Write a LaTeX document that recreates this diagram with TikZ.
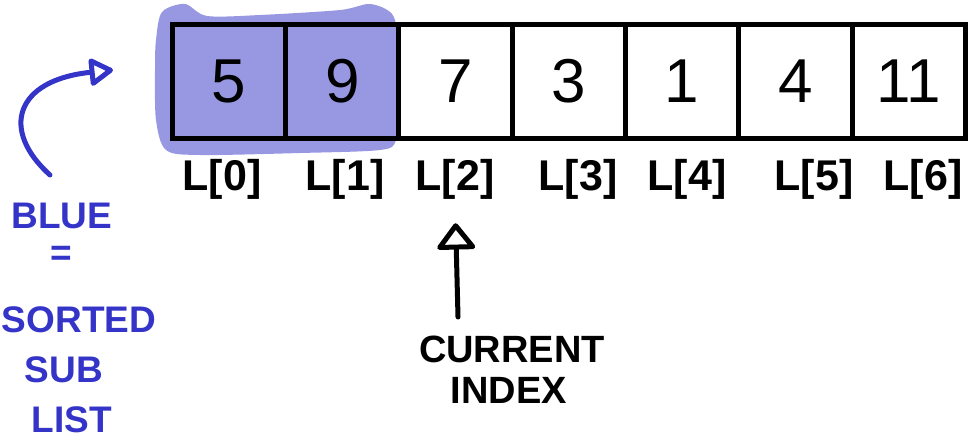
\documentclass[tikz,border=0pt]{standalone}
\usepackage{fontspec}
\setmainfont{Liberation Sans}
\usetikzlibrary{arrows.meta}
\definecolor{hlfill}{RGB}{152,152,226}
\definecolor{inkblue}{RGB}{52,52,200}
\begin{document}
\begin{tikzpicture}[x=1pt,y=-1pt,
  cell/.style={draw=black, line width=5pt, minimum width=113.3pt, minimum height=114pt,
    inner sep=0pt, font=\fontsize{62}{62}\selectfont},
  idx/.style={inner sep=0pt, font=\fontsize{43}{43}\selectfont\bfseries},
  note/.style={inner sep=0pt, text=inkblue, font=\fontsize{37}{37}\selectfont\bfseries},
  caption/.style={inner sep=0pt, font=\fontsize{38}{38}\selectfont\bfseries},
  pointer/.style={line width=5pt, line cap=round, line join=round,
    -{Triangle[open,length=28pt,width=42pt,round]}},
]
\useasboundingbox (0,0) rectangle (969,440);

% highlighted (sorted) part of the list
\fill[hlfill] plot[smooth cycle, tension=0.5] coordinates {
  (156,40) (162,12) (185,4) (207,16) (260,15) (340,10) (370,4) (392,14)
  (398,40) (399,100) (396,140) (380,150) (300,153) (200,155) (166,150)
  (156,120) (155,70)};

% list cells
\foreach \v [count=\i from 0] in {5,9,7,3,1,4,11}
  \node[cell] (c\i) at ({229+113.3*\i},81) {\v};

% index labels
\node[idx] (l0) at (222,179) {L[0]};
\node[idx] (l1) at (345,179) {L[1]};
\node[idx] (l2) at (455,179) {L[2]};
\node[idx] (l3) at (578,179) {L[3]};
\node[idx] (l4) at (687,179) {L[4]};
\node[idx] (l5) at (814,179) {L[5]};
\node[idx] (l6) at (923,179) {L[6]};

% current index pointer
\node[caption] (cur1) at (512,349) {CURRENT};
\node[caption] (cur2) at (509,390) {INDEX};
\coordinate (ctail) at (458,317);
\draw[pointer, shorten >=24pt] (ctail) -- (l2.south);

% legend
\node[note] (b1) at (62,216) {BLUE};
\node[note] (b2) at (61,256) {=};
\node[note] (b3) at (79,320) {SORTED};
\node[note] (b4) at (64,370) {SUB};
\node[note] (b5) at (72,420) {LIST};
\coordinate (btail) at (50,175);
\coordinate (btip) at (113,70);
\draw[pointer, inkblue, -{Triangle[open,length=26pt,width=30pt,round]}]
  (btail) .. controls (0,130) and (15,80) .. (btip);
\end{tikzpicture}
\end{document}
